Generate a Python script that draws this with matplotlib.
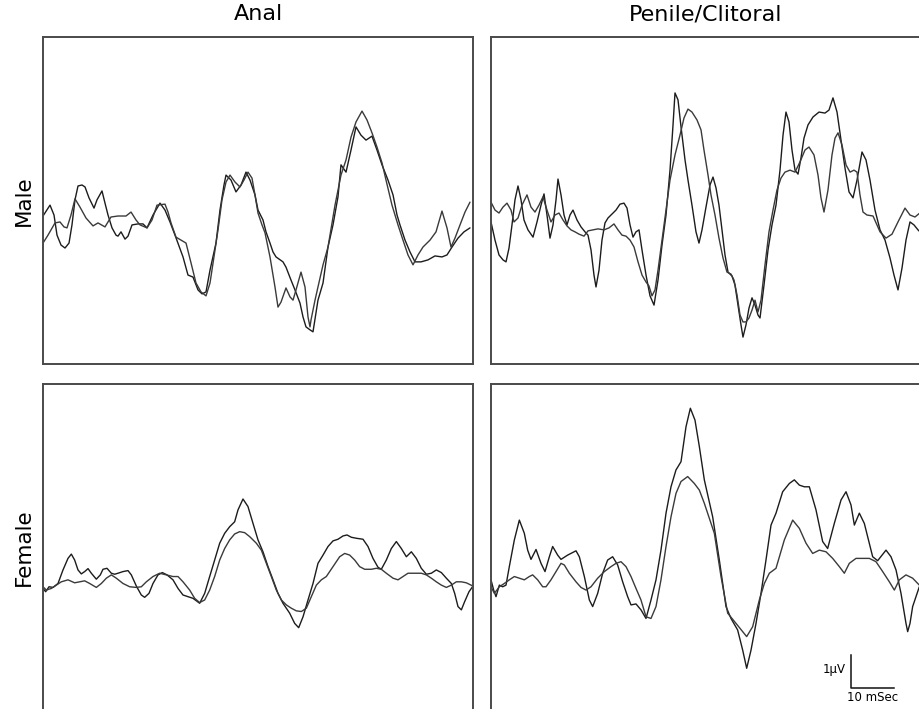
import numpy as np
import matplotlib
matplotlib.use("Agg")
import matplotlib.pyplot as plt

# evoked potentials, time in ms, amplitude in uV
# male, anal
m_anal_t1 = [0, 1.63, 2.56, 3.26, 4.19, 5.12, 6.05, 6.74, 7.44, 8.14, 9.07, 9.77, 10.7, 11.86, 12.56, 13.72, 14.42, 15.12,
             16.05, 16.98, 17.44, 18.14, 19.07, 19.77, 20.7, 22.09, 23.26, 24.19, 25.58, 27.21, 28.37, 29.53, 30.7, 32.56,
             33.72, 34.88, 36.05, 36.98, 37.91, 38.84, 40.23, 41.16, 42.09, 42.56, 43.72, 44.88, 46.05, 47.21, 48.14,
             49.3, 50.0, 51.16, 51.86, 52.79, 53.49, 54.19, 55.81, 56.51, 57.67, 58.6, 59.77, 60.47, 61.16, 62.09, 62.79,
             63.95, 65.12, 66.28, 67.44, 68.6, 69.3, 70.47, 71.63, 72.79, 73.95, 75.12, 76.51, 77.67, 78.84, 80.23,
             81.4, 82.33, 83.02, 84.19, 85.35, 86.51, 87.91, 89.53, 91.16, 92.79, 93.95, 95.12, 96.51, 97.91, 99.3]
m_anal_v1 = [-0.47, -0.14, -0.44, -1.05, -1.35, -1.44, -1.29, -0.74, 0.02, 0.44, 0.47, 0.41, 0.08, -0.23, 0.02, 0.29,
             -0.08, -0.44, -0.83, -1.05, -1.08, -0.95, -1.17, -1.08, -0.74, -0.71, -0.71, -0.83, -0.44, -0.08, -0.29,
             -0.65, -1.05, -1.71, -2.26, -2.32, -2.71, -2.83, -2.77, -2.11, -1.29, -0.29, 0.47, 0.77, 0.62, 0.26, 0.47,
             0.86, 0.62, 0.17, -0.29, -0.59, -0.95, -1.29, -1.56, -1.71, -1.86, -2.02, -2.41, -2.71, -3.11, -3.53,
             -3.83, -3.92, -3.98, -3.02, -2.5, -1.41, -0.74, 0.11, 1.08, 0.86, 1.53, 2.23, 1.98, 1.83, 1.95, 1.53, 1.08,
             0.62, 0.17, -0.44, -0.74, -1.2, -1.56, -1.86, -1.86, -1.8, -1.68, -1.71, -1.65, -1.41, -1.14, -0.95, -0.83]
m_anal_t2 = [0, 1.16, 2.79, 3.95, 4.88, 5.58, 6.51, 7.44, 8.6, 10.0, 11.63, 12.79, 14.42, 15.81, 17.44, 19.3, 20.47,
             21.63, 22.56, 24.19, 25.35, 26.51, 28.37, 29.07, 29.77, 30.93, 32.09, 33.26, 34.42, 35.58, 36.74, 37.91,
             38.84, 40.0, 40.7, 41.63, 42.56, 43.49, 44.65, 45.81, 46.74, 47.67, 48.6, 49.3, 50.0, 50.93, 51.63, 52.79,
             53.95, 54.65, 55.35, 56.51, 57.44, 58.14, 58.84, 60.0, 60.93, 61.63, 62.09, 62.33, 63.26, 63.95, 65.12,
             66.28, 67.91, 69.3, 70.47, 71.63, 72.79, 74.19, 75.35, 76.51, 77.67, 78.84, 79.77, 81.16, 82.56, 83.72,
             84.88, 86.05, 87.21, 88.37, 90.0, 91.4, 92.79, 93.95, 94.88, 95.81, 96.98, 98.14, 99.3]
m_anal_v2 = [-1.29, -1.05, -0.68, -0.65, -0.8, -0.83, -0.44, 0.05, -0.2, -0.53, -0.77, -0.68, -0.8, -0.5, -0.47, -0.47,
             -0.35, -0.59, -0.74, -0.83, -0.59, -0.14, -0.11, -0.35, -0.68, -1.11, -1.2, -1.29, -1.89, -2.5, -2.77,
             -2.89, -2.5, -1.5, -0.89, 0.02, 0.56, 0.77, 0.56, 0.41, 0.62, 0.86, 0.68, 0.17, -0.38, -0.74, -0.98, -1.71,
             -2.62, -3.23, -3.08, -2.65, -2.92, -3.02, -2.71, -2.17, -2.62, -3.53, -3.83, -3.62, -3.02, -2.62, -1.95,
             -1.41, -0.14, 0.77, 1.23, 1.92, 2.38, 2.71, 2.44, 2.05, 1.62, 1.14, 0.62, -0.14, -0.74, -1.2, -1.65, -1.95,
             -1.65, -1.41, -1.2, -0.95, -0.32, -0.83, -1.41, -1.14, -0.74, -0.35, -0.05]

# male, penile
m_pen_t1 = [0, 0.93, 1.86, 2.79, 3.49, 4.19, 4.88, 5.58, 6.28, 6.98, 7.67, 8.6, 9.77, 10.7, 11.63, 12.33, 13.02, 13.72,
            14.42, 15.12, 15.58, 16.28, 16.98, 17.67, 18.37, 19.07, 20.0, 20.93, 21.86, 22.56, 23.26, 23.95, 24.42,
            25.12, 25.81, 26.51, 27.21, 28.14, 29.07, 30.0, 30.93, 31.63, 32.33, 33.02, 33.72, 34.42, 35.12, 36.05,
            36.98, 37.91, 38.84, 39.77, 40.7, 41.63, 42.33, 42.79, 43.49, 44.19, 45.12, 45.81, 46.74, 47.67, 48.37,
            49.07, 50.0, 50.93, 51.63, 52.33, 53.02, 53.72, 54.42, 55.12, 56.05, 56.74, 57.44, 58.14, 58.6, 59.3, 60.0,
            60.7, 61.4, 62.09, 62.56, 63.49, 64.42, 65.35, 66.28, 67.21, 67.91, 68.6, 69.3, 70.0, 70.7, 71.4, 72.09,
            72.79, 73.72, 74.88, 76.28, 77.67, 78.6, 79.53, 80.47, 81.4, 82.33, 83.26, 84.19, 85.12, 86.28, 87.21,
            88.14, 89.3, 90.47, 91.63, 92.79, 93.72, 94.65, 95.58, 96.51, 97.44, 98.37, 99.3, 100.0]
m_pen_v1 = [-0.65, -1.2, -1.65, -1.8, -1.86, -1.44, -0.74, 0.02, 0.44, 0.02, -0.59, -0.89, -1.11, -0.65, -0.14, 0.2,
            -0.44, -1.14, -0.74, 0.02, 0.65, 0.17, -0.44, -0.74, -0.44, -0.29, -0.59, -0.8, -0.95, -1.05, -1.5, -2.26,
            -2.62, -2.11, -1.2, -0.68, -0.53, -0.41, -0.29, -0.11, -0.08, -0.23, -0.74, -1.11, -0.95, -0.89, -1.5,
            -2.26, -2.89, -3.17, -2.41, -1.35, -0.44, 0.92, 2.29, 3.26, 3.05, 2.23, 1.23, 0.62, -0.14, -0.95, -1.29,
            -0.89, -0.2, 0.47, 0.71, 0.38, -0.14, -0.89, -1.65, -2.17, -2.29, -2.56, -3.17, -3.77, -4.14, -3.77, -3.26,
            -2.95, -3.17, -3.47, -3.56, -2.56, -1.5, -0.74, -0.14, 0.92, 1.98, 2.68, 2.38, 1.53, 0.92, 0.8, 1.29, 1.89,
            2.29, 2.53, 2.68, 2.65, 2.74, 3.11, 2.68, 1.83, 0.98, 0.26, 0.08, 0.62, 1.47, 1.23, 0.62, -0.29, -0.89,
            -1.2, -1.74, -2.26, -2.71, -2.05, -1.2, -0.65, -0.74, -0.89, -0.98]
m_pen_t2 = [0, 0.93, 1.86, 2.79, 3.72, 4.65, 5.35, 6.28, 7.21, 8.37, 9.3, 10.23, 11.16, 12.09, 13.02, 13.95, 14.88,
            15.81, 16.74, 17.67, 18.6, 19.53, 20.47, 21.63, 22.56, 23.72, 24.88, 26.28, 27.44, 28.6, 29.53, 30.47,
            31.4, 32.33, 33.26, 34.19, 35.12, 36.05, 36.74, 37.44, 38.14, 38.84, 39.77, 40.7, 41.63, 42.79, 43.95,
            44.88, 45.81, 46.74, 47.91, 48.84, 49.53, 50.47, 51.16, 52.09, 53.02, 53.95, 54.88, 55.81, 56.51, 57.21,
            57.91, 58.6, 59.3, 60.0, 60.7, 61.4, 62.09, 62.79, 63.72, 64.65, 65.58, 66.51, 67.44, 68.37, 69.53, 70.7,
            71.86, 73.02, 73.95, 75.12, 76.05, 76.74, 77.44, 78.37, 79.3, 80.0, 80.7, 81.63, 82.56, 83.49, 84.42,
            85.12, 85.81, 86.51, 87.44, 88.84, 90.47, 91.86, 93.26, 94.65, 96.28, 97.44, 98.6, 100.0]
m_pen_v2 = [-0.05, -0.29, -0.38, -0.2, -0.08, -0.29, -0.65, -0.53, -0.14, 0.17, -0.2, -0.35, -0.14, 0.11, -0.29, -0.65,
            -0.44, -0.38, -0.59, -0.77, -0.89, -0.95, -1.02, -1.08, -0.92, -0.89, -0.86, -0.89, -0.83, -0.71, -0.89,
            -1.05, -1.08, -1.2, -1.41, -1.86, -2.26, -2.47, -2.59, -2.89, -2.71, -2.11, -1.2, -0.29, 0.62, 1.38, 1.98,
            2.5, 2.77, 2.68, 2.44, 2.14, 1.53, 0.77, 0.17, -0.44, -1.14, -1.74, -2.17, -2.23, -2.41, -2.86, -3.47,
            -3.68, -3.68, -3.56, -3.32, -3.02, -3.38, -3.02, -1.95, -0.95, -0.29, 0.32, 0.68, 0.86, 0.92, 0.86, 1.17,
            1.53, 1.62, 1.38, 0.77, 0.08, -0.35, 0.32, 1.38, 1.89, 2.05, 1.68, 1.08, 0.86, 0.92, 0.86, 0.17, -0.35,
            -0.44, -0.47, -0.95, -1.14, -1.02, -0.65, -0.23, -0.44, -0.5, -0.35]

# female, anal
f_anal_t1 = [0, 0.62, 1.4, 2.33, 3.49, 4.65, 5.81, 6.59, 7.36, 8.14, 8.91, 9.69, 10.47, 11.24, 12.4, 13.33, 13.95,
             14.88, 15.89, 16.67, 17.44, 18.6, 19.77, 20.54, 21.71, 22.87, 23.64, 24.65, 25.58, 26.74, 27.75, 28.84,
             30.23, 31.4, 32.56, 33.72, 34.88, 36.43, 37.6, 38.76, 39.92, 41.09, 42.25, 43.41, 44.57, 45.35, 46.51,
             47.67, 48.84, 50.0, 51.16, 52.33, 53.49, 54.65, 55.81, 57.36, 58.53, 59.46, 60.47, 61.63, 62.79, 63.95,
             65.12, 66.28, 67.44, 68.6, 69.77, 70.7, 71.71, 72.87, 74.42, 75.58, 76.74, 77.91, 78.68, 79.84, 81.01,
             82.17, 83.33, 84.5, 85.66, 86.82, 87.98, 89.15, 90.31, 91.47, 92.64, 93.8, 94.96, 95.74, 96.51, 97.29,
             98.06, 99.07, 100.0]
f_anal_v1 = [-1.24, -1.34, -1.19, -1.21, -1.09, -0.68, -0.33, -0.2, -0.38, -0.68, -0.8, -0.73, -0.64, -0.78, -0.96,
             -0.83, -0.66, -0.63, -0.78, -0.81, -0.78, -0.73, -0.7, -0.83, -1.17, -1.44, -1.51, -1.39, -1.09, -0.83,
             -0.76, -0.83, -0.98, -1.24, -1.44, -1.49, -1.54, -1.69, -1.39, -0.88, -0.38, 0.13, 0.43, 0.63, 0.78, 1.14,
             1.47, 1.24, 0.73, 0.23, -0.13, -0.58, -0.98, -1.39, -1.69, -1.99, -2.3, -2.43, -2.1, -1.59, -1.09, -0.48,
             -0.23, 0.03, 0.2, 0.25, 0.35, 0.38, 0.31, 0.28, 0.25, 0.03, -0.33, -0.6, -0.66, -0.38, -0.03, 0.18, -0.03,
             -0.28, -0.13, -0.33, -0.63, -0.81, -0.78, -0.68, -0.76, -0.93, -1.09, -1.39, -1.79, -1.89, -1.64, -1.34,
             -1.17]
f_anal_t2 = [0, 0.78, 1.94, 3.1, 4.26, 5.81, 7.36, 8.53, 9.69, 10.85, 12.4, 13.57, 14.73, 15.89, 17.05, 18.6, 20.16,
             21.71, 22.87, 24.03, 25.58, 27.13, 28.68, 30.23, 31.4, 32.56, 34.11, 35.27, 36.43, 37.6, 38.76, 39.92,
             41.09, 42.25, 43.41, 44.57, 45.74, 46.9, 48.06, 49.61, 50.78, 51.94, 53.1, 54.26, 55.43, 56.59, 57.75,
             58.91, 60.08, 61.24, 62.4, 63.57, 64.73, 65.89, 67.44, 68.99, 70.16, 71.32, 72.48, 73.64, 74.81, 76.36,
             77.52, 78.68, 79.84, 81.4, 82.56, 83.72, 84.88, 86.43, 87.98, 89.15, 90.31, 91.47, 92.64, 93.8, 94.96,
             96.12, 97.29, 98.45, 100.0]
f_anal_v2 = [-1.19, -1.29, -1.24, -1.14, -1.04, -0.98, -1.07, -1.04, -1.01, -1.09, -1.21, -1.09, -0.93, -0.83, -0.93,
             -1.09, -1.19, -1.21, -1.19, -1.04, -0.88, -0.78, -0.83, -0.88, -0.88, -1.04, -1.29, -1.54, -1.67, -1.59,
             -1.29, -0.88, -0.38, -0.03, 0.23, 0.41, 0.48, 0.45, 0.33, 0.13, -0.08, -0.48, -0.88, -1.29, -1.59, -1.74,
             -1.84, -1.92, -1.94, -1.84, -1.49, -1.14, -0.98, -0.88, -0.58, -0.28, -0.18, -0.23, -0.38, -0.58, -0.66,
             -0.66, -0.63, -0.66, -0.78, -0.93, -0.98, -0.88, -0.78, -0.78, -0.78, -0.83, -0.93, -1.04, -1.14, -1.21,
             -1.14, -1.04, -1.04, -1.07, -1.17]

# female, clitoral
f_cli_t1 = [0, 0.62, 1.16, 1.94, 2.71, 3.49, 4.26, 5.43, 6.59, 7.75, 8.53, 9.3, 10.47, 11.63, 12.56, 13.57, 14.34,
            15.5, 16.28, 17.83, 19.77, 20.54, 21.71, 22.87, 23.64, 24.81, 25.97, 27.13, 28.29, 29.46, 30.62, 31.78,
            32.56, 33.72, 34.88, 36.05, 37.21, 38.37, 39.53, 40.7, 41.86, 43.02, 44.19, 45.35, 46.36, 47.44, 48.45,
            49.61, 51.55, 53.1, 54.65, 55.81, 57.36, 58.53, 59.46, 60.47, 61.63, 62.79, 63.95, 65.12, 66.28, 67.83,
            69.38, 70.54, 71.71, 72.87, 74.03, 75.58, 77.13, 78.29, 79.84, 81.4, 82.56, 83.72, 84.5, 85.66, 86.82,
            88.76, 89.92, 91.86, 93.02, 94.19, 95.35, 96.51, 96.9, 97.44, 98.06, 99.61]
f_cli_v1 = [-0.98, -1.29, -1.49, -1.14, -1.19, -1.14, -0.58, 0.23, 0.83, 0.43, -0.08, -0.36, -0.06, -0.48, -0.73,
            -0.28, 0.03, -0.23, -0.36, -0.23, -0.1, -0.28, -0.88, -1.59, -1.79, -1.39, -0.78, -0.38, -0.28, -0.53,
            -1.04, -1.49, -1.74, -1.71, -1.89, -2.15, -1.59, -0.98, -0.08, 1.04, 1.84, 2.35, 2.6, 3.66, 4.22, 3.86,
            3.06, 2.05, 0.93, -0.38, -1.79, -2.15, -2.5, -3.11, -3.66, -3.11, -2.3, -1.39, -0.38, 0.68, 1.04, 1.69,
            1.94, 2.05, 1.89, 1.84, 1.84, 1.14, 0.18, -0.03, 0.73, 1.44, 1.69, 1.29, 0.68, 1.04, 0.73, -0.28, -0.4,
            -0.08, -0.28, -0.68, -1.39, -2.3, -2.55, -2.3, -1.79, -1.19]
f_cli_t2 = [0, 0.78, 1.94, 3.1, 4.26, 5.43, 6.59, 7.75, 8.91, 9.69, 10.85, 12.02, 12.79, 13.95, 15.12, 16.28, 17.05,
            18.22, 19.77, 20.93, 22.09, 23.26, 24.81, 26.36, 27.91, 29.07, 30.23, 31.4, 32.56, 33.72, 34.88, 36.05,
            37.21, 38.37, 39.53, 40.7, 41.86, 43.02, 44.19, 45.74, 47.29, 48.45, 49.61, 51.94, 53.49, 55.04, 56.98,
            58.53, 59.46, 60.85, 62.4, 63.57, 64.73, 66.28, 68.22, 70.16, 71.71, 73.26, 74.81, 76.36, 77.91, 79.46,
            81.01, 82.17, 83.33, 84.88, 87.98, 89.53, 91.09, 92.64, 93.8, 94.96, 96.51, 98.06, 99.61]
f_cli_v2 = [-1.19, -1.39, -1.19, -1.09, -0.98, -0.88, -0.93, -0.98, -0.88, -0.83, -0.98, -1.19, -1.19, -0.98, -0.73,
            -0.48, -0.53, -0.78, -1.04, -1.21, -1.29, -1.19, -0.93, -0.73, -0.58, -0.48, -0.43, -0.58, -0.88, -1.24,
            -1.59, -2.1, -2.15, -1.79, -0.98, 0.03, 0.93, 1.64, 2.0, 2.15, 1.94, 1.74, 1.34, 0.43, -0.88, -1.99, -2.3,
            -2.55, -2.7, -2.4, -1.59, -1.09, -0.78, -0.63, 0.23, 0.83, 0.58, 0.13, -0.18, -0.08, -0.13, -0.33, -0.58,
            -0.78, -0.48, -0.33, -0.33, -0.43, -0.73, -1.04, -1.29, -0.98, -0.83, -0.93, -1.14]

col_titles = ["Anal", "Penile/Clitoral"]
row_titles = ["Male", "Female"]

panels = [
    [[(m_anal_t1, m_anal_v1), (m_anal_t2, m_anal_v2)], [(m_pen_t1, m_pen_v1), (m_pen_t2, m_pen_v2)]],
    [[(f_anal_t1, f_anal_v1), (f_anal_t2, f_anal_v2)], [(f_cli_t1, f_cli_v1), (f_cli_t2, f_cli_v2)]],
]

fig = plt.figure(figsize=(9.2, 7.09), dpi=100)
W, H = 920.0, 709.0
lefts = [43, 491]
tops = [37, 384]
pw, ph = 430, 327

axes = {}
for r in range(2):
    for c in range(2):
        ax = fig.add_axes([lefts[c] / W, 1 - (tops[r] + ph) / H, pw / W, ph / H])
        for (t, v), col in zip(panels[r][c], ["#1c1c1c", "#3a3a3a"]):
            ax.plot(t, v, color=col, lw=1.0, solid_joinstyle="round", solid_capstyle="round")
        ax.set_xlim(0, 100)
        ax.set_ylim(-4.955, 4.955)
        ax.set_xticks([])
        ax.set_yticks([])
        for s in ax.spines.values():
            s.set_color("#4a4a4a")
            s.set_linewidth(1.4)
        axes[(r, c)] = ax

for c, txt in enumerate(col_titles):
    fig.text((lefts[c] + pw / 2) / W, 1 - 14 / H, txt, ha="center", va="center", fontsize=16)
for r, txt in enumerate(row_titles):
    fig.text(24 / W, 1 - (tops[r] + ph / 2) / H, txt, ha="center", va="center", rotation=90, fontsize=15.5)

# scale bar: 10 ms x 1 uV
ax = axes[(1, 1)]
sx, sy = 83.7, -4.26
ax.plot([sx, sx, sx + 10], [sy + 1, sy, sy], color="#111111", lw=1.1)
ax.text(sx - 1.2, sy + 0.55, "1µV", ha="right", va="center", fontsize=8.5)
ax.text(sx + 5, sy - 0.08, "10 mSec", ha="center", va="top", fontsize=8.5)

fig.savefig("out.png", dpi=100)
